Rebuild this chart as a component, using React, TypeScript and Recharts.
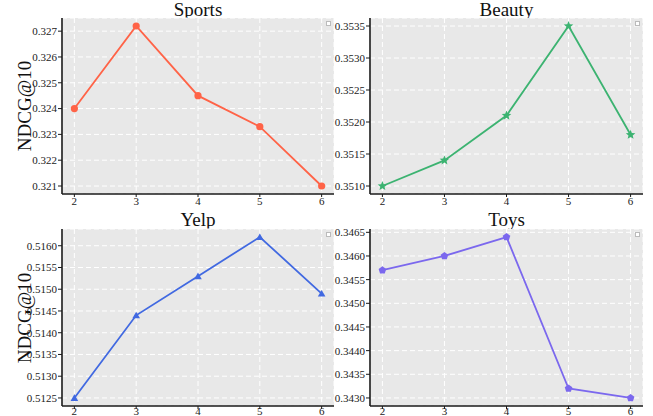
import React from 'react';
import { LineChart, Line, XAxis, YAxis, CartesianGrid } from 'recharts';

const categories = [2, 3, 4, 5, 6];
const sportsValues = [0.324, 0.3272, 0.3245, 0.3233, 0.321];
const beautyValues = [0.351, 0.3514, 0.3521, 0.3535, 0.3518];
const yelpValues = [0.5125, 0.5144, 0.5153, 0.5162, 0.5149];
const toysValues = [0.3457, 0.346, 0.3464, 0.3432, 0.343];

const xTicks = [2, 3, 4, 5, 6];
const sportsTicks = [0.321, 0.322, 0.323, 0.324, 0.325, 0.326, 0.327];
const beautyTicks = [0.351, 0.3515, 0.352, 0.3525, 0.353, 0.3535];
const yelpTicks = [0.5125, 0.513, 0.5135, 0.514, 0.5145, 0.515, 0.5155, 0.516];
const toysTicks = [0.343, 0.3435, 0.344, 0.3445, 0.345, 0.3455, 0.346, 0.3465];

const sportsDomain = [0.32069, 0.32751];
const beautyDomain = [0.350875, 0.353625];
const yelpDomain = [0.512315, 0.516385];
const toysDomain = [0.34283, 0.34657];

const FONT = '"Liberation Serif", "Times New Roman", serif';
const AX = '#1a1a1a';

type Shape = 'circle' | 'star' | 'triangle' | 'pentagon';

function polyPoints(cx: number, cy: number, r: number, n: number, inner?: number) {
  const pts: string[] = [];
  const total = inner ? n * 2 : n;
  for (let i = 0; i < total; i++) {
    const rr = inner ? (i % 2 === 0 ? r : inner) : r;
    const a = -Math.PI / 2 + (i * 2 * Math.PI) / total;
    pts.push(`${cx + rr * Math.cos(a)},${cy + rr * Math.sin(a)}`);
  }
  return pts.join(' ');
}

function makeDot(shape: Shape, color: string) {
  return (props: any) => {
    const { cx, cy, index } = props;
    if (cx == null || cy == null) return <g key={index} />;
    if (shape === 'circle') return <circle key={index} cx={cx} cy={cy} r={3.6} fill={color} />;
    if (shape === 'star') return <polygon key={index} points={polyPoints(cx, cy, 5, 5, 2.2)} fill={color} />;
    if (shape === 'triangle') return <polygon key={index} points={polyPoints(cx, cy + 0.8, 4.4, 3)} fill={color} />;
    return <polygon key={index} points={polyPoints(cx, cy, 4, 5)} fill={color} />;
  };
}

type PanelProps = {
  title: string;
  values: number[];
  ticks: number[];
  domain: number[];
  digits: number;
  color: string;
  shape: Shape;
  left: number;
  top: number;
  width: number;
  height: number;
  yWidth: number;
  mTop: number;
  mRight: number;
  xHeight: number;
  titleTop: number;
  xTickMargin: number;
};

function Panel(p: PanelProps) {
  const data = categories.map((c, i) => ({ x: c, v: p.values[i] }));
  const plotLeft = p.yWidth;
  const plotRight = p.width - p.mRight;
  return (
    <div style={{ position: 'absolute', left: p.left, top: p.top, width: p.width, height: p.height, fontFamily: FONT }}>
      <div
        style={{
          position: 'absolute',
          left: plotLeft,
          width: plotRight - plotLeft,
          top: p.titleTop,
          textAlign: 'center',
          fontFamily: FONT,
          fontSize: 19,
          color: '#111',
          lineHeight: '19px',
        }}
      >
        {p.title}
      </div>
      <LineChart
        width={p.width}
        height={p.height}
        data={data}
        margin={{ top: p.mTop, right: p.mRight, left: 0, bottom: 0 }}
        style={{ overflow: 'visible', fontFamily: FONT }}
      >
        <CartesianGrid stroke="#ffffff" strokeDasharray="5 3" strokeWidth={1} fill="#e8e8e8" />
        <XAxis
          dataKey="x"
          type="number"
          domain={[1.8, 6.2]}
          ticks={xTicks}
          allowDataOverflow
          height={p.xHeight}
          tickSize={3}
          tickMargin={p.xTickMargin}
          stroke={AX}
          axisLine={{ stroke: AX, strokeWidth: 1.6 }}
          tickLine={{ stroke: AX }}
          tick={{ fill: '#222', fontSize: 11, fontFamily: FONT }}
          interval={0}
        />
        <XAxis
          xAxisId="top"
          dataKey="x"
          type="number"
          orientation="top"
          domain={[1.8, 6.2]}
          height={0}
          tick={false}
          tickLine={false}
          axisLine={{ stroke: AX, strokeWidth: 1.6 }}
        />
        <YAxis
          type="number"
          domain={p.domain}
          ticks={p.ticks}
          allowDataOverflow
          width={p.yWidth}
          tickSize={4}
          tickMargin={1}
          interval={0}
          axisLine={{ stroke: AX, strokeWidth: 1.6 }}
          tickLine={{ stroke: AX }}
          tick={{ fill: '#222', fontSize: 11, fontFamily: FONT }}
          tickFormatter={(v: number) => v.toFixed(p.digits)}
        />
        <YAxis
          yAxisId="right"
          type="number"
          orientation="right"
          domain={p.domain}
          width={0}
          tick={false}
          tickLine={false}
          axisLine={{ stroke: '#333', strokeWidth: 2 }}
        />
        <Line
          type="linear"
          dataKey="v"
          stroke={p.color}
          strokeWidth={1.8}
          dot={makeDot(p.shape, p.color)}
          activeDot={false}
          isAnimationActive={false}
        />
      </LineChart>
      <div
        style={{
          position: 'absolute',
          left: plotRight - 8,
          top: p.mTop + 3,
          width: 3,
          height: 3,
          background: '#fff',
          border: '1px solid #bbb',
        }}
      />
    </div>
  );
}

function YLabel({ cy }: { cy: number }) {
  return (
    <div
      style={{
        position: 'absolute',
        left: 25 - 60,
        top: cy - 12,
        width: 120,
        height: 24,
        lineHeight: '24px',
        textAlign: 'center',
        transform: 'rotate(-90deg)',
        fontFamily: FONT,
        fontSize: 19,
        color: '#111',
      }}
    >
      NDCG@10
    </div>
  );
}

export default function App() {
  return (
    <div style={{ position: 'absolute', left: 0, top: 0, width: 653, height: 416, background: '#fff', overflow: 'hidden', fontFamily: FONT }}>
      <style>{`.recharts-text, .recharts-cartesian-axis-tick-value { font-family: "Liberation Serif", "Times New Roman", serif !important; }`}</style>
      <Panel title="Sports" values={sportsValues} ticks={sportsTicks} domain={sportsDomain} digits={3}
        color="#FF6347" shape="circle" left={0} top={0} width={345} height={212}
        yWidth={62} mTop={18} mRight={11} xHeight={18} titleTop={0} xTickMargin={0} />
      <Panel title="Beauty" values={beautyValues} ticks={beautyTicks} domain={beautyDomain} digits={4}
        color="#3CB371" shape="star" left={325} top={0} width={328} height={212}
        yWidth={45} mTop={18} mRight={10} xHeight={18} titleTop={0} xTickMargin={0} />
      <Panel title="Yelp" values={yelpValues} ticks={yelpTicks} domain={yelpDomain} digits={4}
        color="#4169E1" shape="triangle" left={0} top={212} width={345} height={215}
        yWidth={62} mTop={17} mRight={11} xHeight={21} titleTop={-2} xTickMargin={-2} />
      <Panel title="Toys" values={toysValues} ticks={toysTicks} domain={toysDomain} digits={4}
        color="#7B68EE" shape="pentagon" left={325} top={212} width={328} height={215}
        yWidth={45} mTop={17} mRight={10} xHeight={21} titleTop={-2} xTickMargin={-2} />
      <YLabel cy={106} />
      <YLabel cy={318} />
    </div>
  );
}
